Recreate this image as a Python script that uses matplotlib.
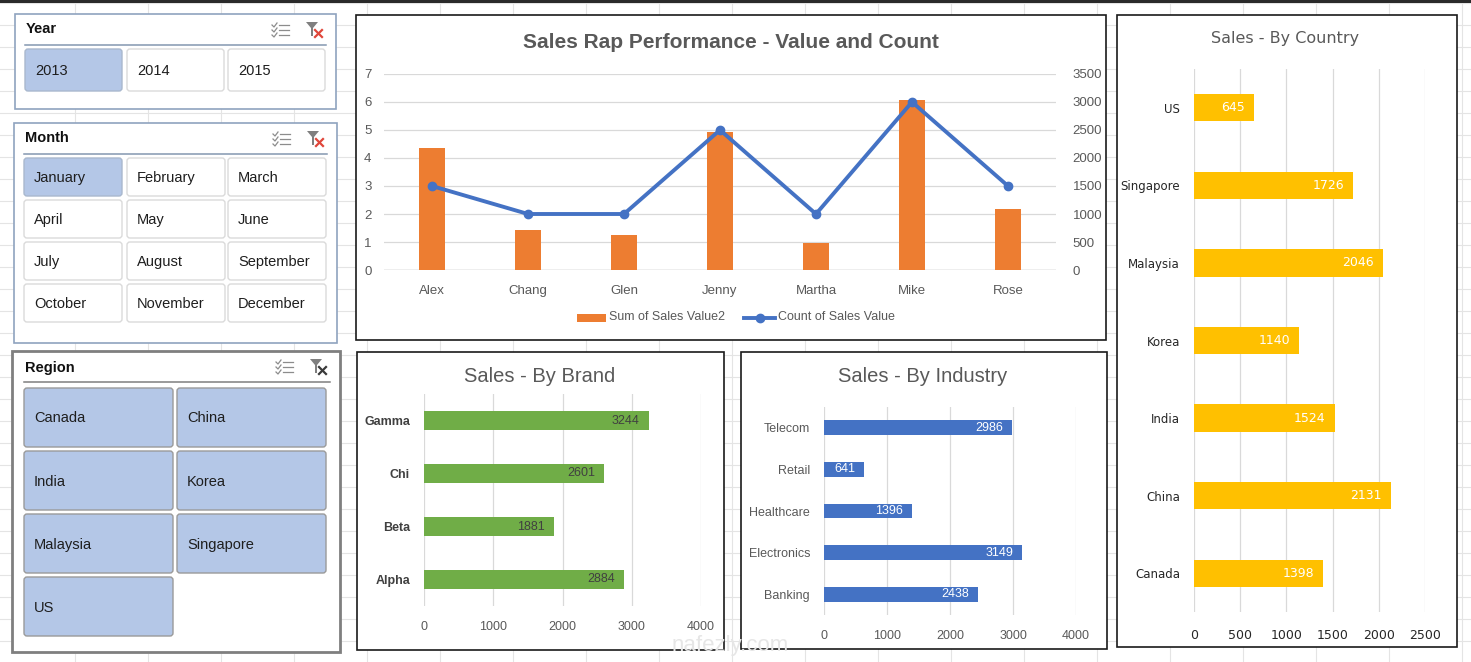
import matplotlib
matplotlib.use('Agg')
import matplotlib.pyplot as plt
from matplotlib.patches import Rectangle, FancyBboxPatch, Polygon
import numpy as np

W, H = 1471, 662
plt.rcParams['font.family'] = ['Liberation Sans', 'DejaVu Sans']

# slicer items
years = ['2013', '2014', '2015']
months = ['January', 'February', 'March', 'April', 'May', 'June',
          'July', 'August', 'September', 'October', 'November', 'December']
regions = ['Canada', 'China', 'India', 'Korea', 'Malaysia', 'Singapore', 'US']

# combo chart
reps = ['Alex', 'Chang', 'Glen', 'Jenny', 'Martha', 'Mike', 'Rose']
sum_sales_value2 = [4.35, 1.43, 1.25, 4.92, 0.98, 6.07, 2.18]
count_sales_value = [1500, 1000, 1000, 2500, 1000, 3000, 1500]

# bar charts (bottom to top)
brands = ['Alpha', 'Beta', 'Chi', 'Gamma']
brand_sales = [2884, 1881, 2601, 3244]

industries = ['Banking', 'Electronics', 'Healthcare', 'Retail', 'Telecom']
industry_sales = [2438, 3149, 1396, 641, 2986]

countries = ['Canada', 'China', 'India', 'Korea', 'Malaysia', 'Singapore', 'US']
country_sales = [1398, 2131, 1524, 1140, 2046, 1726, 645]

GRAY = '#595959'
GRID = '#D9D9D9'

fig = plt.figure(figsize=(W / 100, H / 100), dpi=100)
bg = fig.add_axes([0, 0, 1, 1])
bg.set_xlim(0, W)
bg.set_ylim(H, 0)
bg.axis('off')

# excel sheet grid
for gx in np.arange(75, W, 73):
    bg.plot([gx, gx], [0, H], color='#E4E4E4', lw=0.8, zorder=0)
for gy in np.arange(3, H, 22):
    bg.plot([0, W], [gy, gy], color='#E4E4E4', lw=0.8, zorder=0)
bg.add_patch(Rectangle((0, 0), W, 3, fc='#2A2A2A', ec='none', zorder=1))


def add_ax(x0, y0, x1, y1):
    a = fig.add_axes([x0 / W, 1 - y1 / H, (x1 - x0) / W, (y1 - y0) / H])
    a.set_facecolor('none')
    return a


def panel(x0, y0, x1, y1, ec='#1A1A1A', lw=1.2):
    bg.add_patch(Rectangle((x0, y0), x1 - x0, y1 - y0, fc='white', ec=ec, lw=lw, zorder=2))


def icons(ix, iy, x_color):
    # multi-select icon
    for k in range(3):
        yy = iy + k * 5
        bg.plot([ix, ix + 2, ix + 5], [yy + 1, yy + 3, yy - 1], color='#8C8C8C', lw=0.9, zorder=4)
        bg.plot([ix + 7, ix + 17], [yy + 1, yy + 1], color='#8C8C8C', lw=0.9, zorder=4)
    # clear filter icon
    fx = ix + 34
    bg.add_patch(Polygon([[fx, iy - 2], [fx + 12, iy - 2], [fx + 7, iy + 4], [fx + 7, iy + 12],
                          [fx + 5, iy + 12], [fx + 5, iy + 4]], closed=True,
                         fc='#7F7F7F', ec='none', zorder=4))
    bg.plot([fx + 9, fx + 16], [iy + 6, iy + 13], color=x_color, lw=1.6, zorder=5)
    bg.plot([fx + 9, fx + 16], [iy + 13, iy + 6], color=x_color, lw=1.6, zorder=5)


def slicer(box, title, items, ncol, col_x, bw, top, bh, pitch, selected,
           box_ec, box_lw, sep_c, x_color, all_sel=False, title_dy=15):
    x0, y0, x1, y1 = box
    panel(x0, y0, x1, y1, ec=box_ec, lw=box_lw)
    bg.text(col_x[0] + 1, y0 + title_dy, title, fontsize=10.5, fontweight='bold',
            color='#111111', va='center', ha='left', zorder=4)
    bg.plot([col_x[0], x1 - 10], [y0 + 31, y0 + 31], color=sep_c, lw=1.1, zorder=4)
    icons(x1 - 64, y0 + 10, x_color)
    for i, name in enumerate(items):
        r, c = divmod(i, ncol)
        bx, by = col_x[c], top + r * pitch
        sel = all_sel or name in selected
        fc = '#B4C7E7' if sel else 'white'
        ec = ('#9A9A9A' if all_sel else '#A9B8CE') if sel else '#DADADA'
        bg.add_patch(FancyBboxPatch((bx, by), bw, bh, boxstyle='round,pad=0,rounding_size=3',
                                    fc=fc, ec=ec, lw=1.0, zorder=3))
        bg.text(bx + 10, by + bh / 2 + 1, name, fontsize=10.5, color='#1E1E1E',
                va='center', ha='left', zorder=4)


slicer((15, 14, 336, 109), 'Year', years, 3, [25, 127, 228], 97, 49, 42, 42, ['2013'],
       '#8FA3BF', 1.2, '#8497B0', '#E0463A')
slicer((14, 123, 337, 343), 'Month', months, 3, [24, 127, 228], 98, 158, 38, 42, ['January'],
       '#8FA3BF', 1.2, '#8497B0', '#E0463A')
slicer((12, 351, 340, 652), 'Region', regions, 2, [24, 177], 149, 388, 59, 63, [],
       '#7F7F7F', 2.0, '#7F7F7F', '#3A3A3A', all_sel=True, title_dy=17)

# chart panels
panel(356, 15, 1106, 340)
panel(357, 352, 724, 650)
panel(741, 352, 1107, 649)
panel(1117, 15, 1457, 647)

# ---- Sales Rap Performance combo chart ----
ax = add_ax(384, 74, 1056, 270)
x = np.arange(len(reps))
ax.bar(x, sum_sales_value2, width=0.28, color='#ED7D31', zorder=2)
ax.set_xlim(-0.5, 6.5)
ax.set_ylim(0, 7)
ax.set_yticks(range(0, 8))
ax.set_xticks(x)
ax.set_xticklabels(reps)
ax.grid(axis='y', color=GRID, lw=0.9, zorder=0)
ax.set_axisbelow(True)
for s in ax.spines.values():
    s.set_visible(False)
ax.axhline(0, color='#BFBFBF', lw=1.0, zorder=1)
ax.tick_params(axis='both', length=0, labelsize=9.5, labelcolor=GRAY)
ax.tick_params(axis='y', pad=9)
ax.tick_params(axis='x', pad=11)

ax2 = ax.twinx()
ax2.plot(x, count_sales_value, color='#4472C4', lw=2.8, marker='o', ms=6, zorder=3)
ax2.set_ylim(0, 3500)
ax2.set_yticks(np.arange(0, 3501, 500))
for s in ax2.spines.values():
    s.set_visible(False)
ax2.tick_params(axis='y', length=0, labelsize=9.5, labelcolor=GRAY, pad=12)

bg.text(731, 42, 'Sales Rap Performance - Value and Count', fontsize=15, fontweight='bold',
        color=GRAY, ha='center', va='center', zorder=4)
bg.add_patch(Rectangle((577, 313.5), 29, 8.5, fc='#ED7D31', ec='none', zorder=4))
bg.text(609, 317.5, 'Sum of Sales Value2', fontsize=9, color=GRAY, va='center', zorder=4)
bg.plot([744, 775], [317.5, 317.5], color='#4472C4', lw=2.8, zorder=4)
bg.plot([760], [317.5], marker='o', ms=6, color='#4472C4', zorder=5)
bg.text(778, 317.5, 'Count of Sales Value', fontsize=9, color=GRAY, va='center', zorder=4)


def hbar(rect, cats, vals, color, xmax, step, height, label_color, cat_color, cat_kw,
         tick_color=GRAY, font=None, pad=10):
    a = add_ax(*rect)
    yy = np.arange(len(cats))
    a.barh(yy, vals, height=height, color=color, zorder=2)
    a.set_xlim(0, xmax)
    a.set_ylim(-0.5, len(cats) - 0.5)
    a.set_xticks(np.arange(0, xmax + 1, step))
    a.set_yticks(yy)
    a.grid(axis='x', color=GRID, lw=0.9, zorder=0)
    a.set_axisbelow(True)
    for s in a.spines.values():
        s.set_visible(False)
    a.tick_params(axis='both', length=0)
    a.tick_params(axis='x', labelsize=9, pad=pad, labelcolor=tick_color)
    a.tick_params(axis='y', pad=10, labelcolor=cat_color)
    fk = {} if font is None else {'family': font}
    a.set_yticklabels(cats, **cat_kw, **fk)
    if font is not None:
        for t in a.get_xticklabels():
            t.set_family(font)
    for yi, v in zip(yy, vals):
        a.annotate(str(v), (v, yi), xytext=(-6.5, 0), textcoords='offset points',
                   ha='right', va='center', fontsize=9, color=label_color, zorder=4, **fk)
    return a


# ---- Sales by Brand ----
hbar((424, 394, 701, 606), brands, brand_sales, '#70AD47', 4000, 1000, 0.36, '#404040',
     '#404040', {'fontsize': 9, 'fontweight': 'bold'}, pad=11)
bg.text(540, 377, 'Sales - By Brand', fontsize=14.5, color=GRAY, ha='center', va='center', zorder=4)

# ---- Sales by Industry ----
hbar((824, 407, 1076, 615), industries, industry_sales, '#4472C4', 4000, 1000, 0.36, 'white',
     GRAY, {'fontsize': 9}, pad=11)
bg.text(923, 377, 'Sales - By Industry', fontsize=14.5, color=GRAY, ha='center', va='center', zorder=4)

# ---- Sales by Country ----
hbar((1194, 69, 1425, 612), countries, country_sales, '#FFC000', 2500, 500, 0.35, 'white',
     '#262626', {'fontsize': 8.5}, tick_color='#262626', font='DejaVu Sans', pad=12)
bg.text(1285, 39, 'Sales - By Country', fontsize=11.5, color=GRAY, ha='center', va='center',
        family='DejaVu Sans', zorder=4)

# faint watermark
bg.text(730, 645, 'nafezly.com', fontsize=16, color='#E6E6E6', ha='center', va='center', zorder=6)

fig.savefig('out.png', dpi=100)
